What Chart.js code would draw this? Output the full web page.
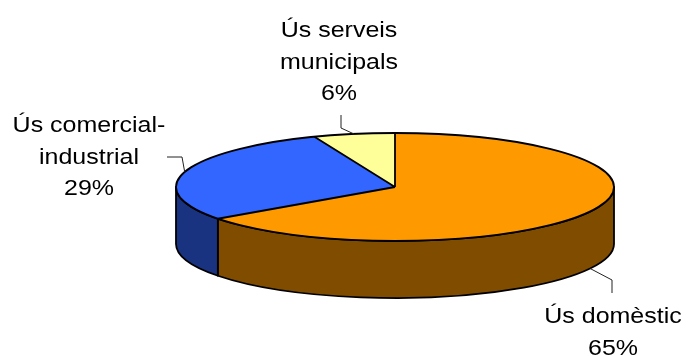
<!DOCTYPE html>
<html>
<head>
<meta charset="utf-8">
<script src="https://cdn.jsdelivr.net/npm/chart.js@4"></script>
<style>
  body { margin: 0; background: #fff; }
  canvas { display: block; }
</style>
</head>
<body>
<canvas id="usosChart" width="688" height="356"></canvas>
<script>
const categories = ['Ús domèstic', 'Ús comercial-industrial', 'Ús serveis municipals'];
const percentages = [65, 29, 6];
// how each category name is broken over lines in its label
const nameLines = [['Ús domèstic'], ['Ús comercial-', 'industrial'], ['Ús serveis', 'municipals']];

const topColors = ['#ff9900', '#3366ff', '#ffff99'];
const sideColors = ['#7f4c00', '#1a3380', '#80804c'];

// ellipse of the top face and thickness of the disc
const pie3d = { cx: 395, cy: 187, rx: 219, ry: 54, depth: 57 };

// label block (centre x, first baseline) and leader line elbows
const labelPos = [{ x: 613, y: 323 }, { x: 89, y: 132 }, { x: 339, y: 37 }];
const leaderPts = [
  [{ x: 612, y: 280 }, { x: 612, y: 293 }],
  [{ x: 182, y: 157 }, { x: 167, y: 157 }],
  [{ x: 341, y: 128 }, { x: 341, y: 115 }]
];

const pie3dPlugin = {
  id: 'pie3d',
  beforeDatasetsDraw(chart) {
    const ctx = chart.ctx;
    const arcs = chart.getDatasetMeta(0).data;
    const { cx, cy, rx, ry, depth } = pie3d;

    // side walls, only the front half of the disc is visible
    ctx.save();
    ctx.lineWidth = 1.8;
    ctx.strokeStyle = '#000';
    ctx.lineJoin = 'round';
    arcs.forEach((arc, i) => {
      const a = Math.max(arc.startAngle, 0);
      const b = Math.min(arc.endAngle, Math.PI);
      if (b <= a) return;
      ctx.beginPath();
      ctx.ellipse(cx, cy, rx, ry, 0, a, b);
      ctx.ellipse(cx, cy + depth, rx, ry, 0, b, a, true);
      ctx.closePath();
      ctx.fillStyle = sideColors[i];
      ctx.fill();
      ctx.stroke();
    });
    ctx.restore();

    // squash the round pie into the top face
    const a0 = arcs[0];
    ctx.save();
    ctx.translate(cx, cy);
    ctx.scale(rx / a0.outerRadius, ry / a0.outerRadius);
    ctx.translate(-a0.x, -a0.y);
  },
  afterDatasetsDraw(chart) {
    const ctx = chart.ctx;
    ctx.restore();

    const arcs = chart.getDatasetMeta(0).data;
    const { cx, cy, rx, ry, depth } = pie3d;
    ctx.save();
    ctx.lineWidth = 1.8;
    ctx.strokeStyle = '#000';
    ctx.lineJoin = 'round';
    ctx.beginPath();
    ctx.ellipse(cx, cy, rx, ry, 0, 0, Math.PI * 2);
    ctx.stroke();
    ctx.beginPath();
    arcs.forEach(arc => {
      ctx.moveTo(cx, cy);
      ctx.lineTo(cx + rx * Math.cos(arc.startAngle), cy + ry * Math.sin(arc.startAngle));
    });
    ctx.stroke();
    ctx.restore();

    // leader lines and labels
    ctx.save();
    ctx.strokeStyle = '#222';
    ctx.lineWidth = 1;
    arcs.forEach((arc, i) => {
      const mid = (arc.startAngle + arc.endAngle) / 2;
      const sx = cx + rx * Math.cos(mid);
      const sy = cy + ry * Math.sin(mid) + (Math.sin(mid) > 0 ? depth : 0);
      ctx.beginPath();
      ctx.moveTo(sx, sy);
      leaderPts[i].forEach(p => ctx.lineTo(p.x, p.y));
      ctx.stroke();
    });

    ctx.fillStyle = '#000';
    ctx.font = '25px "Liberation Sans", Arial, sans-serif';
    ctx.textAlign = 'center';
    ctx.textBaseline = 'alphabetic';
    categories.forEach((c, i) => {
      const lines = nameLines[i].concat([percentages[i] + '%']);
      lines.forEach((line, k) => {
        ctx.save();
        ctx.translate(labelPos[i].x, labelPos[i].y + k * 31.5);
        ctx.scale(1, 0.9);
        ctx.fillText(line, 0, 0);
        ctx.restore();
      });
    });
    ctx.restore();
  }
};

const ctx = document.getElementById('usosChart').getContext('2d');
const usosChart = new Chart(ctx, {
  type: 'pie',
  data: {
    labels: categories,
    datasets: [{
      data: percentages,
      backgroundColor: topColors,
      borderWidth: 0,
      clip: false
    }]
  },
  options: {
    responsive: false,
    animation: false,
    plugins: {
      legend: { display: false },
      tooltip: { enabled: false }
    }
  },
  plugins: [pie3dPlugin]
});
</script>
</body>
</html>
